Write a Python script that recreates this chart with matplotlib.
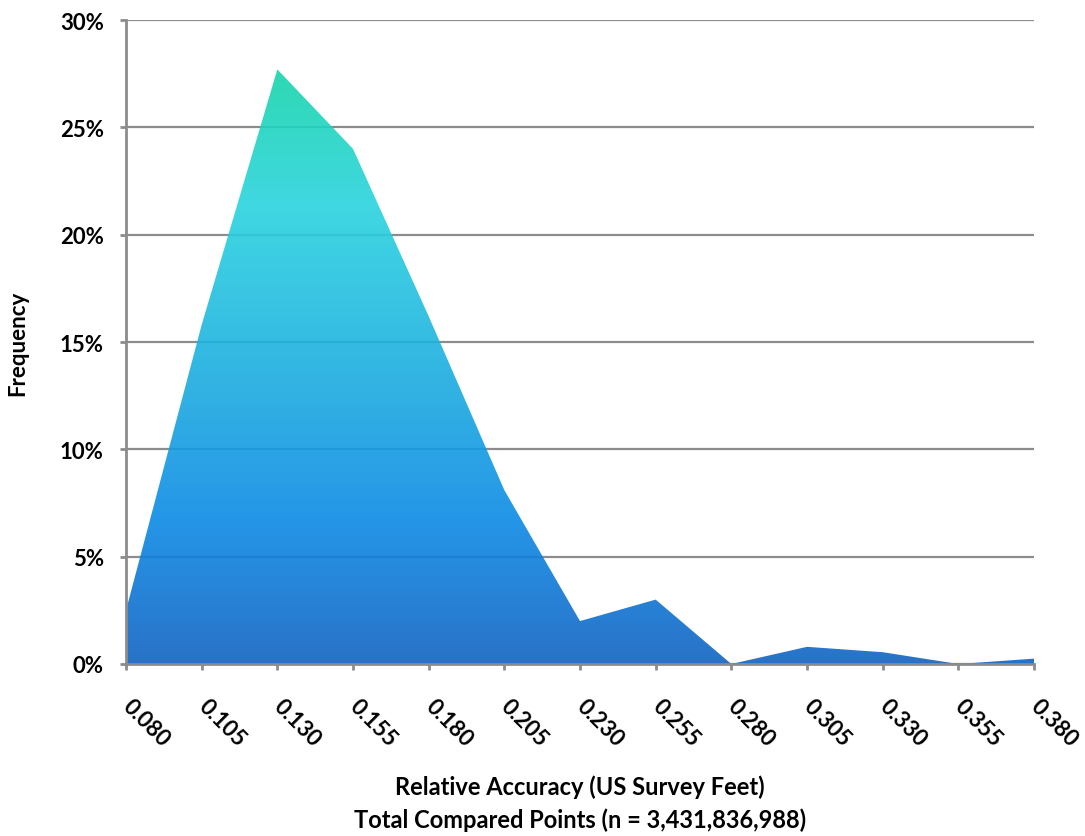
import numpy as np
import matplotlib
matplotlib.use('Agg')
import matplotlib.pyplot as plt
from matplotlib.colors import LinearSegmentedColormap, to_rgb
from matplotlib.ticker import PercentFormatter

## data
accuracy = [0.080, 0.105, 0.130, 0.155, 0.180, 0.205, 0.230,
            0.255, 0.280, 0.305, 0.330, 0.355, 0.380]
frequency = [2.5, 15.8, 27.7, 24.0, 16.2, 8.1, 2.0,
             3.0, 0.0, 0.8, 0.55, 0.0, 0.25]
tick_labels = ['%.3f' % a for a in accuracy]

plt.rcParams['font.family'] = ['Lato', 'DejaVu Sans']
plt.rcParams['font.weight'] = 'bold'

fig = plt.figure(figsize=(10.85, 8.37), dpi=100)
ax = fig.add_axes([126/1085, 1 - 665/837, (1034-126)/1085, (665-21)/837])

grey = '#8c8c8c'
ax.set_ylim(0, 30)
ax.set_xlim(accuracy[0], accuracy[-1])
ax.set_yticks(np.arange(0, 31, 5))
ax.yaxis.set_major_formatter(PercentFormatter(decimals=0))
ax.grid(axis='y', color=grey, linewidth=1.6, zorder=0)
ax.set_axisbelow(True)

# area with vertical gradient (slightly see-through, like the original)
alpha = 0.9
stops = [(0.0, '#2872C8'), (0.244, '#2496E8'), (0.445, '#30B0E3'),
         (0.773, '#3FD8E2'), (1.0, '#2DD9B2')]
adj = []
for pos, c in stops:
    rgb = (np.array(to_rgb(c)) - (1 - alpha)) / alpha
    adj.append((pos, tuple(np.clip(rgb, 0, 1))))
cmap = LinearSegmentedColormap.from_list('area', adj)

ymax = max(frequency)
poly = ax.fill_between(accuracy, frequency, 0, color='none', linewidth=0)
grad = np.linspace(0, 1, 256).reshape(-1, 1)
img = ax.imshow(grad, cmap=cmap, origin='lower', aspect='auto', alpha=alpha,
                extent=[accuracy[0], accuracy[-1], 0, ymax], zorder=2)
img.set_clip_path(poly.get_paths()[0], transform=ax.transData)
ax.set_xlim(accuracy[0], accuracy[-1])
ax.set_ylim(0, 30)

# axes styling
for s in ['top', 'right']:
    ax.spines[s].set_visible(False)
for s in ['left', 'bottom']:
    ax.spines[s].set_color(grey)
    ax.spines[s].set_linewidth(2)
    ax.spines[s].set_zorder(3)
ax.tick_params(axis='both', color=grey, width=2, length=4.5)
ax.tick_params(axis='y', pad=11.5, labelsize=16)

ax.set_xticks(accuracy)
ax.set_xticklabels(tick_labels, rotation=-45, ha='left', va='center',
                   rotation_mode='anchor', fontsize=16)
ax.tick_params(axis='x', pad=23)

fig.text(18/1085, 1 - 343/837, 'Frequency', rotation=90, ha='center',
         va='center', fontsize=16, fontweight='bold')
fig.text(580/1085, 1 - 787/837, 'Relative Accuracy (US Survey Feet)',
         ha='center', va='center', fontsize=17, fontweight='bold')
fig.text(580/1085, 1 - 820/837, 'Total Compared Points (n = 3,431,836,988)',
         ha='center', va='center', fontsize=17, fontweight='bold')

fig.savefig('out.png', dpi=100)
